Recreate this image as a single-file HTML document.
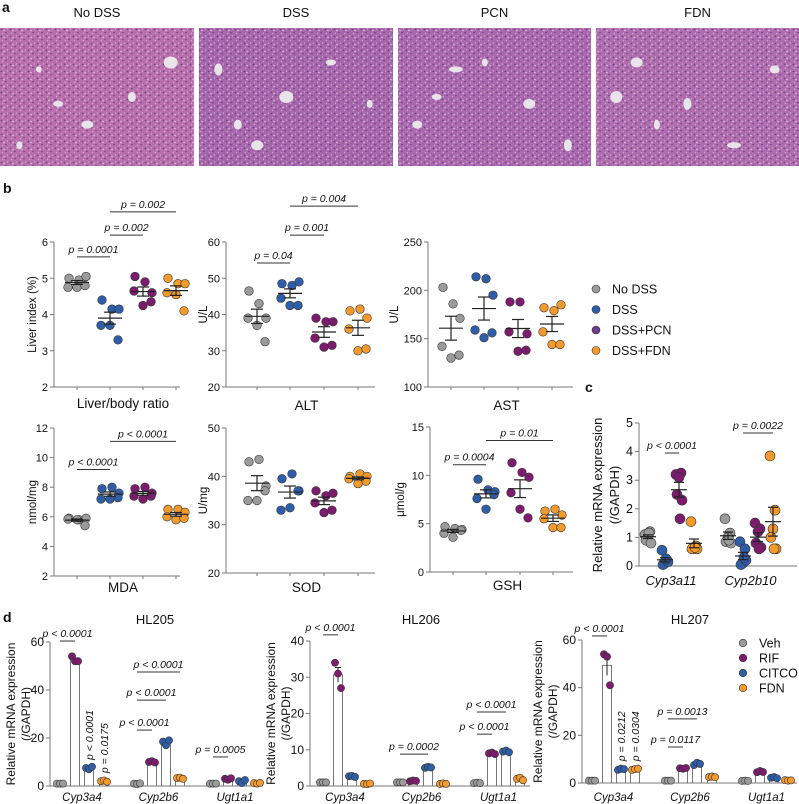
<!DOCTYPE html>
<html><head><meta charset="utf-8">
<style>
html,body{margin:0;padding:0;background:#fff;}
svg{display:block;font-family:"Liberation Sans",Arial,sans-serif;}
</style></head>
<body>
<svg id="fig" width="799" height="804" viewBox="0 0 799 804" xmlns="http://www.w3.org/2000/svg">
<defs>
<pattern id="tissue" x="0" y="0" width="9" height="7" patternUnits="userSpaceOnUse">
<rect width="9" height="7" fill="none"/>
<circle cx="1.5" cy="1.5" r="0.9" fill="#5a3a8a" opacity="0.8"/>
<circle cx="6" cy="4.5" r="0.8" fill="#4a2f80" opacity="0.7"/>
<circle cx="4" cy="2.5" r="0.9" fill="#f0d0ea" opacity="0.7"/>
<circle cx="7.5" cy="1" r="0.6" fill="#f3dcef" opacity="0.6"/>
<circle cx="2.5" cy="5.5" r="0.7" fill="#ecc8e4" opacity="0.6"/>
</pattern>
</defs>
</svg>
<script>
// ---------- Data ----------
const groupColors = ['#9b9b9b','#2f5ea8','#7d1b6f','#f39a2c'];
const colorsD = ['#9b9b9b','#7d1b6f','#2f5ea8','#f39a2c'];
const legendB = ['No DSS','DSS','DSS+PCN','DSS+FDN'];
const legendD = ['Veh','RIF','CITCO','FDN'];
const histLabels = ['No DSS','DSS','PCN','FDN'];

const liverData = [[5.0,4.95,5.05,4.75,4.75,4.8],[4.4,4.15,4.15,3.7,3.7,3.3],[5.05,4.9,4.6,4.65,4.25,4.35],[5.0,4.85,4.85,4.6,4.55,4.1]];
const altData = [[46.5,43,39,39,37,32.5],[48.5,48,49,44.5,42.5,42.5],[39,38,38,33.5,31,31.5],[41,41.5,39,36,30,30.5]];
const astData = [[203,186,171,142,130,133],[214,212,195,159,151,156],[188,188,155,157,137,138],[182,179,185,157,144,144]];
const mdaData = [[5.9,5.8,5.9,5.85,5.8,5.4],[7.9,8.0,7.6,7.2,7.2,7.3],[7.9,8.0,7.6,7.4,7.2,7.4],[6.5,6.5,6.3,6.0,5.8,5.9]];
const sodData = [[43,43.5,38,35,35,37],[39.5,40.5,37,33,33.5,37],[37,36,36.5,34.5,32.5,33],[40,40.5,40,39.5,38.5,39]];
const gshData = [[4.7,4.5,4.4,4.0,3.6,4.3],[9.6,8.5,8.3,7.6,6.5,8.0],[11.3,10.3,9.8,8.2,6.5,5.6],[6.3,6.5,5.9,5.5,4.6,4.6]];
const cyp3a11Data = [[1.1,1.2,1.0,0.9,0.8,1.15],[0.55,0.2,0.1,0.05,0.15,0.25],[3.2,3.25,3.1,2.5,2.3,1.65],[1.55,0.7,0.65,0.6,0.6,0.65]];
const cyp2b10Data = [[1.65,1.15,1.0,0.85,0.8,0.9],[0.85,0.6,0.1,0.05,0.2,0.3],[1.5,1.3,1.2,0.8,0.65,0.6],[3.85,1.95,1.3,1.0,0.6,0.6]];

const genesD = ['Cyp3a4','Cyp2b6','Ugt1a1'];
const hl205 = [
 [[1,1,1],[54,52,52],[7.5,7,8],[2,2.3,1.8]],
 [[1,0.8,1.1],[10,10.3,9.8],[18.5,17,19],[3.3,3.5,3]],
 [[1,1,1],[3,2.6,3.2],[2,1.2,2.5],[1.2,1,1.3]]];
const hl206 = [
 [[1,1,1],[34,31,27],[2.7,2.8,2.5],[0.6,0.5,0.7]],
 [[1,1,1],[1.3,1.5,1.4],[5,5.3,5.1],[0.6,0.7,0.6]],
 [[0.8,0.9,0.8],[9,9.2,8.8],[9.5,9.8,9.3],[2,2.3,1.6]]];
const hl207 = [
 [[1,1,1],[54,53,41],[5.5,6,5.8],[5.5,5.8,6]],
 [[1,1,1],[6.2,6,6.3],[7.5,8.5,8],[2.5,2.7,2.4]],
 [[0.9,1,0.9],[4.5,5,4.6],[2.2,2.5,2],[1.2,1,1.1]]];

const ticksLiver=[2,3,4,5,6], ticksALT=[20,30,40,50,60], ticksAST=[100,150,200,250];
const ticksMDA=[2,4,6,8,10,12], ticksSOD=[20,30,40,50], ticksGSH=[0,5,10,15];
const ticksC=[0,1,2,3,4,5], ticks205=[0,20,40,60], ticks206=[0,10,20,30,40], ticks207=[0,20,40,60];

const brLiver=[[0,1,5.59,'p = 0.0001'],[1,2,6.19,'p = 0.002'],[1,3,6.83,'p = 0.002']];
const brALT=[[0,1,54.2,'p = 0.04'],[1,2,61.9,'p = 0.001'],[1,3,69.9,'p = 0.004']];
const brMDA=[[0,1,9.2,'p < 0.0001'],[1,3,11.1,'p < 0.0001']];
const brGSH=[[0,1,11.1,'p = 0.0004'],[1,3,13.6,'p = 0.01']];

// ---------- helpers ----------
const NS='http://www.w3.org/2000/svg';
const svg=document.getElementById('fig');
function mk(tag,parent){const e=document.createElementNS(NS,tag);(parent||svg).appendChild(e);return e;}
function scale(d0,d1,p0,p1){return v=>p0+(v-d0)*(p1-p0)/(d1-d0);}
function txt(parent,x,y,s,size,anchor,extra){const t=mk('text',parent);t.setAttribute('x',x);t.setAttribute('y',y);t.setAttribute('font-size',size);t.setAttribute('text-anchor',anchor||'middle');t.setAttribute('fill','#111');if(extra){for(const k in extra)t.setAttribute(k,extra[k]);}t.textContent=s;return t;}
function line(parent,x1,y1,x2,y2,c,w){const l=mk('line',parent);l.setAttribute('x1',x1);l.setAttribute('y1',y1);l.setAttribute('x2',x2);l.setAttribute('y2',y2);l.setAttribute('stroke',c||'#777');l.setAttribute('stroke-width',w||1);return l;}
function circ(parent,x,y,r,fill){const c=mk('circle',parent);c.setAttribute('cx',x);c.setAttribute('cy',y);c.setAttribute('r',r);c.setAttribute('fill',fill);c.setAttribute('stroke','#333');c.setAttribute('stroke-width',0.6);return c;}
function meanSem(a){const m=a.reduce((s,v)=>s+v,0)/a.length;const sd=Math.sqrt(a.reduce((s,v)=>s+(v-m)*(v-m),0)/(a.length-1));return [m,sd/Math.sqrt(a.length)];}
function rotTitle(parent,x,y,s,size){return txt(parent,x,y,s,size,'middle',{transform:'rotate(-90 '+x+' '+y+')'});}

function yAxis(g,x,yTop,yBot,ys,ticks,fs,x1){
  const ax=line(g,x,yTop,x,yBot,'#777',1);
  
  
  const xa=line(g,x,yBot,x1,yBot,'#777',1);
  
  
  ticks.forEach(v=>{line(g,x-4,ys(v),x,ys(v),'#777',1);
    const t=txt(g,x-6,ys(v)+4,String(v),fs,'end');
    
    });
}
function bracket(g,xa,xb,y,label){line(g,xa,y,xb,y,'#333',1);
  const t=txt(g,(xa+xb)/2,y-4,label,10.5,'middle',{'font-style':'italic'});
  
  }

// ---------- panel a ----------
const gA=mk('g');
txt(gA,2,12,'a',14,'start',{'font-weight':'bold'});
const imgX=[0,199,398,596], imgW=[194,194,193,203], imgCol=['#b86fab','#a767ab','#aa69ad','#b06dae'];
histLabels.forEach((lab,i)=>{
  const g=mk('g',gA);
  
  
  const r=mk('rect',g);r.setAttribute('x',imgX[i]);r.setAttribute('y',28);r.setAttribute('width',imgW[i]);r.setAttribute('height',138);r.setAttribute('fill',imgCol[i]);
  const r2=mk('rect',g);r2.setAttribute('x',imgX[i]);r2.setAttribute('y',28);r2.setAttribute('width',imgW[i]);r2.setAttribute('height',138);r2.setAttribute('fill','url(#tissue)');
  const vx=[0.2,0.45,0.68,0.88,0.3,0.1], vy=[0.3,0.7,0.5,0.25,0.55,0.85];
  vx.forEach((f,k)=>{const e=mk('ellipse',g);e.setAttribute('cx',imgX[i]+f*imgW[i]);e.setAttribute('cy',28+vy[(k+i)%6]*138);e.setAttribute('rx',3+((k*3+i)%5));e.setAttribute('ry',3+((k+i*2)%4));e.setAttribute('fill','#e8e4ea');});
  txt(gA,imgX[i]+imgW[i]/2,17,lab,13);
});

// ---------- dot plot ----------
const offs6=[-8,2,9,-9,0,8];
function dotPanel(name,cfg,data,br){
  const g=mk('g');
  const ys=scale(cfg.min,cfg.max,cfg.yBot,cfg.yTop);
  yAxis(g,cfg.x,cfg.yTop,cfg.yBot,ys,cfg.ticks,11,cfg.x1);
  cfg.cats.forEach(cx=>line(g,cx,cfg.yBot,cx,cfg.yBot+3,'#777',1));
  data.forEach((arr,gi)=>{
    const cx=cfg.cats[gi];
    arr.forEach((v,k)=>{const c=circ(g,cx+offs6[k],ys(v),4.3,groupColors[gi]);
      
      });
    const [m,s]=meanSem(arr);
    const ml=line(g,cx-12,ys(m),cx+12,ys(m),'#222',1.2);
    
    
    line(g,cx,ys(m+s),cx,ys(m-s),'#222',1.2);
    line(g,cx-6,ys(m+s),cx+6,ys(m+s),'#222',1.2);
    line(g,cx-6,ys(m-s),cx+6,ys(m-s),'#222',1.2);
  });
  (br||[]).forEach(b=>bracket(g,cfg.cats[b[0]],cfg.cats[b[1]],ys(b[2]),b[3]));
  const lt=txt(g,(cfg.x+cfg.x1)/2+6,cfg.labelY,cfg.label,13.5);
  
  
  const yt=rotTitle(g,cfg.tx,(cfg.yTop+cfg.yBot)/2,cfg.ytitle,11.5);
  
  
}
txt(svg,3,193,'b',14,'start',{'font-weight':'bold'});
dotPanel('liver-index-chart',{x:54,x1:180,yTop:242,yBot:387,min:2,max:6,ticks:ticksLiver,cats:[77,110,143,176],label:'Liver/body ratio',labelY:408,tx:36,ytitle:'Liver index (%)'},liverData,brLiver);
dotPanel('alt-chart',{x:226,x1:375,yTop:242,yBot:387,min:20,max:60,ticks:ticksALT,cats:[257,290,324,358],label:'ALT',labelY:410,tx:207,ytitle:'U/L'},altData,brALT);
dotPanel('ast-chart',{x:428,x1:573,yTop:242,yBot:387,min:100,max:250,ticks:ticksAST,cats:[451,484,518,552],label:'AST',labelY:410,tx:398,ytitle:'U/L'},astData,[]);
dotPanel('mda-chart',{x:54,x1:180,yTop:428,yBot:576,min:2,max:12,ticks:ticksMDA,cats:[77,110,143,176],label:'MDA',labelY:592,tx:36,ytitle:'nmol/mg'},mdaData,brMDA);
dotPanel('sod-chart',{x:226,x1:375,yTop:428,yBot:573,min:20,max:50,ticks:ticksSOD,cats:[257,290,324,358],label:'SOD',labelY:592,tx:207,ytitle:'U/mg'},sodData,[]);
dotPanel('gsh-chart',{x:430,x1:573,yTop:427,yBot:572,min:0,max:15,ticks:ticksGSH,cats:[453,486,520,553],label:'GSH',labelY:590,tx:404,ytitle:'μmol/g'},gshData,brGSH);

// legend b
const lgB=mk('g');
legendB.forEach((s,i)=>{const y=289+i*20.5;
  const lc=['#9b9b9b','#2f5ea8','#6b3d8e','#f39a2c'][i];
  const c=circ(lgB,596,y,4,lc);
  
  
  const t=txt(lgB,612,y+4.5,s,12.5,'start');
  
  });

// ---------- panel c ----------
txt(svg,585,392,'c',14,'start',{'font-weight':'bold'});
(function(){
  const g=mk('g');
  const ys=scale(0,5,566,423);
  yAxis(g,639,423,566,ys,ticksC,12.5,797);
  const cats=[[648,665,679,694],[728,743,758,773]];
  const sets=[cyp3a11Data,cyp2b10Data], names=['Cyp3a11','Cyp2b10'];
  const offs=[-3,2,0,-2,3,1];
  sets.forEach((set,si)=>{
    set.forEach((arr,gi)=>{const cx=cats[si][gi];
      arr.forEach((v,k)=>{const c=circ(g,cx+offs[k],ys(v),5,groupColors[gi]);
        
        });
      const [m,s]=meanSem(arr);
      line(g,cx-8,ys(m),cx+8,ys(m),'#222',1.2);
      line(g,cx,ys(m+s),cx,ys(m-s),'#222',1.2);
      line(g,cx-5,ys(m+s),cx+5,ys(m+s),'#222',1.2);
      line(g,cx-5,ys(m-s),cx+5,ys(m-s),'#222',1.2);
    });
    const t=txt(g,(cats[si][0]+cats[si][3])/2,585,names[si],13,'middle',{'font-style':'italic'});
    
    
  });
  bracket(g,665,679,ys(3.95),'p < 0.0001');
  bracket(g,743,773,ys(4.65),'p = 0.0022');
  const t1=rotTitle(g,602,495,'Relative mRNA expression',13);
  
  
  const t2=rotTitle(g,619,495,'(/GAPDH)',13);
  
  
})();

// ---------- panel d ----------
txt(svg,3,622,'d',14,'start',{'font-weight':'bold'});
function barPanel(name,cfg,data,brs,rot){
  const g=mk('g');
  const ys=scale(0,cfg.max,cfg.yBot,cfg.yTop);
  yAxis(g,cfg.x,cfg.yTop,cfg.yBot,ys,cfg.ticks,12,cfg.x1);
  const offs=[-3,0,3];
  data.forEach((gene,gi)=>{
    gene.forEach((arr,si)=>{const cx=cfg.cats[gi][si];
      const [m,s]=meanSem(arr);
      const r=mk('rect',g);r.setAttribute('x',cx-4.5);r.setAttribute('y',ys(m));r.setAttribute('width',9);r.setAttribute('height',Math.max(0,cfg.yBot-ys(m)));r.setAttribute('fill','#fff');r.setAttribute('stroke','#777');r.setAttribute('stroke-width',1);
      
      
      line(g,cx,ys(m+s),cx,ys(m-s),'#222',1);
      line(g,cx-3,ys(m+s),cx+3,ys(m+s),'#222',1);
      arr.forEach((v,k)=>{const c=circ(g,cx+offs[k],ys(v),3.6,colorsD[si]);
        
        });
    });
    const t=txt(g,(cfg.cats[gi][0]+cfg.cats[gi][3])/2,801,genesD[gi],11.5,'middle',{'font-style':'italic'});
    
    
  });
  brs.forEach(b=>bracket(g,cfg.cats[b[0]][b[1]],cfg.cats[b[0]][b[2]],ys(b[3]),b[4]));
  (rot||[]).forEach(rr=>{const cx=cfg.cats[0][rr[0]];const [m]=meanSem(data[0][rr[0]]);const yy=ys(m)-8;
    const t=txt(g,cx+4,yy,rr[1],10.5,'start',{'font-style':'italic',transform:'rotate(-90 '+(cx+4)+' '+yy+')'});
    
    });
  const ti=txt(g,cfg.titleX,624,cfg.title,13);
  
  
  const t1=rotTitle(g,cfg.tx,(cfg.yTop+cfg.yBot)/2,'Relative mRNA expression',12);
  
  
  const t2=rotTitle(g,cfg.tx+15,(cfg.yTop+cfg.yBot)/2,'(/GAPDH)',12);
  
  
}
barPanel('hl205-chart',{x:50,x1:263,yTop:642,yBot:786,max:60,ticks:ticks205,cats:[[60,75,89,104],[137,152,166,180],[213,228,242,257]],title:'HL205',titleX:155,tx:15},hl205,
  [[0,0,1,60.4,'p < 0.0001'],[1,0,1,23.3,'p < 0.0001'],[1,0,2,35.8,'p < 0.0001'],[1,0,3,47.5,'p < 0.0001'],[2,0,1,12.1,'p = 0.0005']],
  [[2,'p < 0.0001'],[3,'p = 0.0175']]);
barPanel('hl206-chart',{x:310,x1:530,yTop:641,yBot:786,max:40,ticks:ticks206,cats:[[323,338,352,367],[400,413,428,443],[477,492,506,520]],title:'HL206',titleX:421,tx:275},hl206,
  [[0,0,1,41.7,'p < 0.0001'],[1,0,2,8.8,'p = 0.0002'],[2,0,1,14.3,'p < 0.0001'],[2,0,2,20.4,'p < 0.0001']],[]);
barPanel('hl207-chart',{x:582,x1:797,yTop:640,yBot:783,max:60,ticks:ticks207,cats:[[592,607,621,635],[668,683,697,712],[745,760,774,788]],title:'HL207',titleX:690,tx:542},hl207,
  [[0,0,1,61.7,'p < 0.0001'],[1,0,1,15.1,'p = 0.0117'],[1,0,2,26.9,'p = 0.0013']],
  [[2,'p = 0.0212'],[3,'p = 0.0304']]);

// legend d
const lgD=mk('g');
legendD.forEach((s,i)=>{const y=643+i*15;
  const c=circ(lgD,743,y,3.8,colorsD[i]);
  
  
  const t=txt(lgD,759,y+4.5,s,12.5,'start');
  
  });
</script>
</body></html>
